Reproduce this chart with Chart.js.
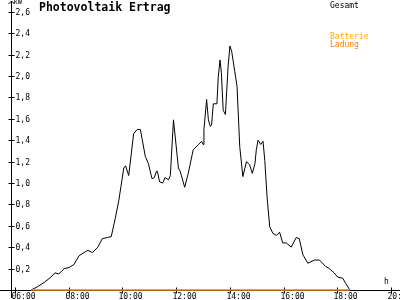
<!DOCTYPE html>
<html>
<head>
<meta charset="utf-8">
<script src="https://cdn.jsdelivr.net/npm/chart.js@4"></script>
<style>
  html, body { margin: 0; padding: 0; background: #fff; }
  canvas { display: block; }
</style>
</head>
<body>
<canvas id="pvChart" width="400" height="300"></canvas>
<script>
// Data (time of day, kW)
const times = ['06:36','06:50','07:05','07:20','07:29','07:38','07:50','08:01','08:12','08:23',
  '08:38','08:43','08:53','09:05','09:15','09:26','09:35','09:44','09:52','10:03',
  '10:07','10:14','10:25','10:33','10:40','10:51','10:58','11:06','11:11','11:16',
  '11:18','11:23','11:30','11:35','11:43','11:47','11:54','12:05','12:09','12:19',
  '12:27','12:38','12:50','12:57','13:00','13:02','13:08','13:12','13:16','13:19',
  '13:23','13:31','13:34','13:38','13:41','13:45','13:50','13:56','14:00','14:04',
  '14:11','14:16','14:20','14:22','14:29','14:37','14:44','14:50','14:56','14:59',
  '15:03','15:09','15:14','15:18','15:23','15:29','15:36','15:44','15:51','15:58',
  '16:06','16:17','16:28','16:35','16:43','16:54','17:09','17:20','17:34','17:42',
  '17:53','18:01','18:12','18:19','18:28'];
const gesamt = [0, 0.03, 0.07, 0.12, 0.16, 0.15, 0.20, 0.21, 0.24, 0.32,
  0.36, 0.37, 0.35, 0.40, 0.48, 0.49, 0.50, 0.67, 0.84, 1.14,
  1.16, 1.07, 1.46, 1.50, 1.50, 1.25, 1.18, 1.04, 1.05, 1.11,
  1.11, 1.01, 1.00, 1.05, 1.03, 1.07, 1.59, 1.14, 1.11, 0.96,
  1.09, 1.31, 1.36, 1.39, 1.36, 1.50, 1.78, 1.59, 1.53, 1.54,
  1.74, 1.74, 1.99, 2.15, 2.03, 1.68, 1.64, 2.09, 2.28, 2.23,
  2.04, 1.90, 1.53, 1.34, 1.06, 1.20, 1.17, 1.09, 1.18, 1.31,
  1.40, 1.36, 1.39, 1.21, 0.87, 0.59, 0.53, 0.51, 0.54, 0.44,
  0.44, 0.40, 0.49, 0.48, 0.33, 0.25, 0.28, 0.28, 0.22, 0.20,
  0.16, 0.12, 0.11, 0.06, 0];
const ladungTimes = ['06:36', '18:28'];
const ladung = [0, 0];

const yTicks = [0.2, 0.4, 0.6, 0.8, 1.0, 1.2, 1.4, 1.6, 1.8, 2.0, 2.2, 2.4, 2.6];
const xTicks = ['06:00', '08:00', '10:00', '12:00', '14:00', '16:00', '18:00', '20:00'];

function toHours(t) {
    const p = t.split(':');
    return parseInt(p[0], 10) + parseInt(p[1], 10) / 60;
}

function toPoints(ts, vals) {
    return ts.map((t, i) => ({ x: toHours(t), y: vals[i] }));
}

const MONO = '"DejaVu Sans Mono", monospace';

// Axes, labels and legend in the style of the original plot (drawn under the lines)
const axisPlugin = {
    id: 'pvAxes',
    beforeDatasetsDraw(chart) {
        const ctx = chart.ctx;
        const xs = chart.scales.x;
        const ys = chart.scales.y;
        const x0 = Math.round(xs.getPixelForValue(xs.min)) + 0.5;
        const y0 = Math.round(ys.getPixelForValue(0)) + 0.5;

        ctx.save();
        ctx.strokeStyle = '#000';
        ctx.lineWidth = 1;

        // axis lines
        ctx.beginPath();
        ctx.moveTo(0, y0);
        ctx.lineTo(chart.width, y0);
        ctx.moveTo(x0, 1);
        ctx.lineTo(x0, chart.height - 2);
        // arrow head
        ctx.moveTo(x0 - 3, 4);
        ctx.lineTo(x0, 1);
        ctx.lineTo(x0 + 3, 4);
        ctx.stroke();

        // y ticks + labels
        ctx.fillStyle = '#000';
        ctx.font = '8px ' + MONO;
        ctx.textBaseline = 'middle';
        ctx.textAlign = 'left';
        yTicks.forEach(v => {
            const py = Math.round(ys.getPixelForValue(v)) + 0.5;
            ctx.beginPath();
            ctx.moveTo(x0 - 3, py);
            ctx.lineTo(x0 + 3, py);
            ctx.stroke();
            ctx.fillText(v.toFixed(1).replace('.', ','), x0 + 4, py);
        });

        // x ticks + labels
        ctx.textAlign = 'center';
        ctx.textBaseline = 'alphabetic';
        xTicks.forEach(t => {
            const px = Math.round(xs.getPixelForValue(toHours(t))) + 0.5;
            ctx.beginPath();
            ctx.moveTo(px, y0 - 3);
            ctx.lineTo(px, y0 + 3);
            ctx.stroke();
            ctx.fillText(t, px + 8, 299);
        });

        // unit labels
        ctx.font = '7px ' + MONO;
        ctx.textAlign = 'left';
        ctx.textBaseline = 'top';
        ctx.fillText('kW', x0 + 2, -1);
        ctx.font = '8px ' + MONO;
        ctx.fillText('h', 384, 278);

        // title
        ctx.font = 'bold 11.5px ' + MONO;
        ctx.textBaseline = 'alphabetic';
        ctx.fillText('Photovoltaik Ertrag', 39, 11);

        // legend
        ctx.font = '8px ' + MONO;
        ctx.fillText('Gesamt', 330, 7.5);
        ctx.fillStyle = '#ffa500';
        ctx.fillText('Batterie', 330, 38.5);
        ctx.fillStyle = '#ff8000';
        ctx.fillText('Ladung', 330, 46.5);
        ctx.restore();
    }
};

new Chart(document.getElementById('pvChart'), {
    type: 'line',
    data: {
        datasets: [{
            label: 'Ladung',
            data: toPoints(ladungTimes, ladung),
            borderColor: '#ff8000',
            borderWidth: 1.5,
            pointRadius: 0,
            clip: false,
            order: 0
        }, {
            label: 'Gesamt',
            data: toPoints(times, gesamt),
            borderColor: '#000',
            borderWidth: 1,
            pointRadius: 0,
            tension: 0,
            clip: false,
            order: 1
        }]
    },
    options: {
        responsive: false,
        animation: false,
        devicePixelRatio: 1,
        layout: { padding: { left: 11, right: 0, top: 0, bottom: 10 } },
        plugins: {
            legend: { display: false },
            tooltip: { enabled: false }
        },
        scales: {
            x: { type: 'linear', min: 5.851, max: 20.333, display: false },
            y: { min: 0, max: 2.71, display: false }
        }
    },
    plugins: [axisPlugin]
});
</script>
</body>
</html>
